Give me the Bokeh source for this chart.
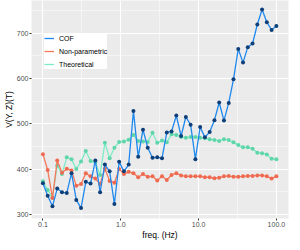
from bokeh.plotting import figure
from bokeh.models import Range1d, FixedTicker, Legend, LegendItem, ColumnDataSource
from bokeh.embed import file_html
from bokeh.resources import INLINE

freq = [0.1, 0.1151, 0.1326, 0.1526, 0.1758, 0.2024, 0.2330, 0.2683, 0.3089, 0.3556,
        0.4095, 0.4715, 0.5429, 0.6251, 0.7197, 0.8286, 0.9541, 1.0985, 1.2649, 1.4563,
        1.6768, 1.9307, 2.2230, 2.5595, 2.9471, 3.3932, 3.9069, 4.4984, 5.1795, 5.9636,
        6.8665, 7.9060, 9.1030, 10.4811, 12.0679, 13.8950, 15.9986, 18.4207, 21.2095, 24.4205,
        28.1177, 32.3746, 37.2759, 42.9193, 49.4171, 56.8987, 65.5129, 75.4312, 86.8511, 100.0]

cof = [369, 341, 318, 357, 349, 347, 391, 332, 314, 372,
       368, 419, 349, 410, 395, 323, 416, 395, 410, 528,
       427, 487, 447, 425, 426, 424, 481, 483, 518, 473,
       515, 498, 422, 493, 470, 482, 508, 547, 507, 546,
       598, 665, 635, 669, 677, 719, 752, 724, 707, 716]

nonpar = [433, 398, 336, 419, 392, 401, 397, 363, 367, 391,
          384, 379, 367, 401, 374, 370, 400, 389, 394, 391,
          382, 389, 383, 384, 375, 384, 376, 387, 391, 386,
          384, 384, 384, 384, 382, 382, 380, 381, 384, 385,
          383, 383, 384, 385, 385, 386, 386, 384, 379, 384]

theo = [373, 354, 337, 408, 389, 426, 422, 400, 417, 440,
        418, 415, 387, 458, 424, 447, 460, 461, 465, 475,
        462, 461, 460, 480, 458, 463, 459, 477, 475, 471,
        469, 471, 471, 469, 468, 466, 464, 462, 466, 464,
        459, 453, 448, 448, 445, 436, 435, 432, 423, 422]

x_ticks = [0.1, 1.0, 10.0, 100.0]
x_tick_labels = ["0.1", "1.0", "10.0", "100.0"]
y_ticks = [300, 400, 500, 600, 700]
series_names = ["COF", "Non-parametric", "Theoretical"]

src = ColumnDataSource(dict(freq=freq, cof=cof, nonpar=nonpar, theo=theo))

p = figure(width=292, height=242, x_axis_type="log",
           x_range=Range1d(0.0713, 143.2), y_range=Range1d(291, 772),
           output_backend="svg", toolbar_location=None)
p.min_border_left = 18
p.min_border_right = 4
p.min_border_top = 0
p.min_border_bottom = 18
p.background_fill_color = "#EBEBEB"
p.border_fill_color = "white"
p.outline_line_color = None

p.xaxis.ticker = FixedTicker(ticks=x_ticks, minor_ticks=[10**-0.5, 10**0.5, 10**1.5])
p.xaxis.major_label_overrides = {t: l for t, l in zip(x_ticks, x_tick_labels)}
p.yaxis.ticker = FixedTicker(ticks=y_ticks, minor_ticks=[350, 450, 550, 650, 750])

for g in (p.xgrid, p.ygrid):
    g.grid_line_color = "white"
    g.grid_line_width = 1.1
    g.minor_grid_line_color = "white"
    g.minor_grid_line_width = 0.5

for ax in (p.xaxis, p.yaxis):
    ax.axis_line_color = None
    ax.major_tick_line_color = "#333333"
    ax.major_tick_out = 2
    ax.major_tick_in = 0
    ax.minor_tick_out = 0
    ax.minor_tick_in = 0
    ax.major_label_text_font = "Liberation Sans"
    ax.major_label_text_font_size = "7px"
    ax.major_label_text_color = "#4D4D4D"
    ax.major_label_standoff = 1
    ax.axis_label_text_font = "Liberation Sans"
    ax.axis_label_text_font_size = "8.5px"
    ax.axis_label_text_font_style = "normal"
    ax.axis_label_text_color = "black"
    ax.axis_label_standoff = 0

p.xaxis.axis_label = "freq. (Hz)"
p.yaxis.axis_label = "V(Y, Z)(T)"

lg = p.line("freq", "theo", source=src, line_color="#7DEBC5", line_width=1.3)
p.scatter("freq", "theo", source=src, size=4, fill_color="#5FD6AA", line_color=None)
lo = p.line("freq", "nonpar", source=src, line_color="#F6775A", line_width=1.3)
p.scatter("freq", "nonpar", source=src, size=4, fill_color="#EE6A50", line_color=None)
lb = p.line("freq", "cof", source=src, line_color="#1E88EE", line_width=1.3)
p.scatter("freq", "cof", source=src, size=4, fill_color="#0F3F78", line_color=None)

legend = Legend(items=[LegendItem(label=series_names[0], renderers=[lb]),
                       LegendItem(label=series_names[1], renderers=[lo]),
                       LegendItem(label=series_names[2], renderers=[lg])],
                location=(13, 149))
legend.background_fill_color = "white"
legend.background_fill_alpha = 1
legend.border_line_color = None
legend.label_text_font = "Liberation Sans"
legend.label_text_font_size = "7px"
legend.label_text_color = "black"
legend.glyph_width = 10
legend.glyph_height = 10
legend.label_height = 10
legend.spacing = 3
legend.padding = 8
legend.margin = 0
legend.label_standoff = 5
p.add_layout(legend)

open("out.html", "w").write(file_html(p, INLINE))
